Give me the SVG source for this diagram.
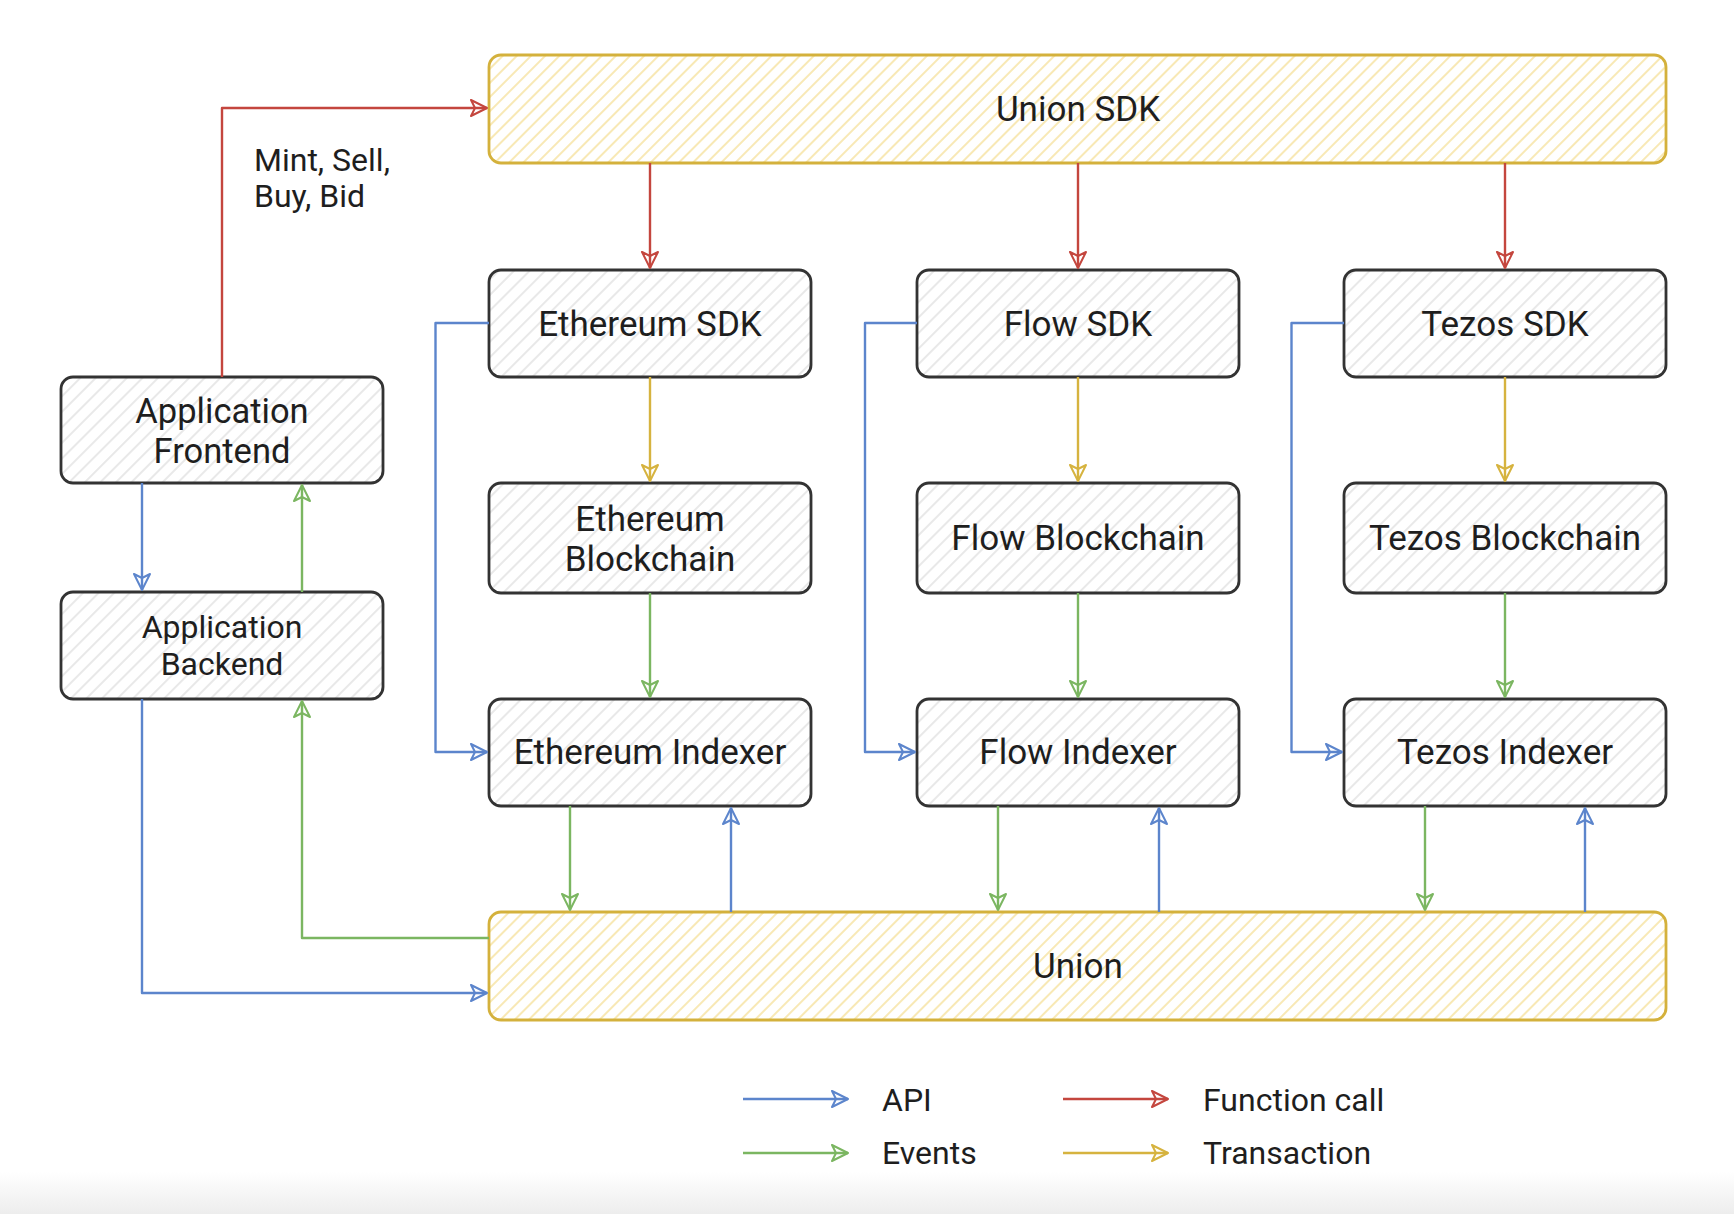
<svg xmlns="http://www.w3.org/2000/svg" width="1734" height="1214" viewBox="0 0 1734 1214">
<defs>
<pattern id="hg" patternUnits="userSpaceOnUse" width="11" height="11" patternTransform="rotate(45)">
<line x1="5" y1="0" x2="5" y2="11" stroke="#e3e3e3" stroke-width="1.6"/>
</pattern>
<pattern id="hy" patternUnits="userSpaceOnUse" width="10" height="10" patternTransform="rotate(45)">
<line x1="5" y1="0" x2="5" y2="10" stroke="#f6e3a2" stroke-width="1.6"/>
</pattern>
<marker id="mr" viewBox="0 0 22 22" refX="19" refY="11" markerWidth="22" markerHeight="22" markerUnits="userSpaceOnUse" orient="auto">
<path d="M3,3 L19,11 L3,19 L7,11 Z" fill="none" stroke="#c4463e" stroke-width="2" stroke-linejoin="round"/>
</marker>
<marker id="mb" viewBox="0 0 22 22" refX="19" refY="11" markerWidth="22" markerHeight="22" markerUnits="userSpaceOnUse" orient="auto">
<path d="M3,3 L19,11 L3,19 L7,11 Z" fill="none" stroke="#5c85cc" stroke-width="2" stroke-linejoin="round"/>
</marker>
<marker id="mg" viewBox="0 0 22 22" refX="19" refY="11" markerWidth="22" markerHeight="22" markerUnits="userSpaceOnUse" orient="auto">
<path d="M3,3 L19,11 L3,19 L7,11 Z" fill="none" stroke="#7bb661" stroke-width="2" stroke-linejoin="round"/>
</marker>
<marker id="my" viewBox="0 0 22 22" refX="19" refY="11" markerWidth="22" markerHeight="22" markerUnits="userSpaceOnUse" orient="auto">
<path d="M3,3 L19,11 L3,19 L7,11 Z" fill="none" stroke="#d6b33f" stroke-width="2" stroke-linejoin="round"/>
</marker>
<linearGradient id="fade" x1="0" y1="0" x2="0" y2="1">
<stop offset="0" stop-color="#ffffff"/>
<stop offset="1" stop-color="#ededed"/>
</linearGradient>
</defs>
<style>
.node rect{fill:url(#hg);stroke:#333333;stroke-width:2.8}
.ynode rect{fill:url(#hy);stroke:#d4b13c;stroke-width:2.8}
text{font-family:Roboto,"Liberation Sans",Arial,sans-serif;fill:#1e1e1e}
.t{font-size:35px;text-anchor:middle}
.tf{font-size:34.5px;text-anchor:middle}
.ts{font-size:32px;text-anchor:middle}
.lg{font-size:32px}
.c path{fill:none;stroke-width:2.4;stroke-linejoin:round}
.r{stroke:#c4463e;marker-end:url(#mr)}
.b{stroke:#5c85cc;marker-end:url(#mb)}
.g{stroke:#7bb661;marker-end:url(#mg)}
.y{stroke:#d6b33f;marker-end:url(#my)}
</style>
<rect x="0" y="0" width="1734" height="1214" fill="#ffffff"/>
<rect x="0" y="1172" width="1734" height="42" fill="url(#fade)"/>

<g id="union-sdk" class="ynode"><rect x="489" y="55" width="1177" height="108" rx="12"/><text class="t" x="1078" y="121">Union SDK</text></g>
<g id="union" class="ynode"><rect x="489" y="912" width="1177" height="108" rx="12"/><text class="t" x="1078" y="978">Union</text></g>

<g id="app-frontend" class="node"><rect x="61" y="377" width="322" height="106" rx="12"/><text class="tf" x="222" y="423">Application</text><text class="tf" x="222" y="463">Frontend</text></g>
<g id="app-backend" class="node"><rect x="61" y="592" width="322" height="107" rx="12"/><text class="ts" x="222" y="638">Application</text><text class="ts" x="222" y="675">Backend</text></g>

<g id="ethereum-sdk" class="node"><rect x="489" y="270" width="322" height="107" rx="12"/><text class="t" x="650" y="336">Ethereum SDK</text></g>
<g id="flow-sdk" class="node"><rect x="917" y="270" width="322" height="107" rx="12"/><text class="t" x="1078" y="336">Flow SDK</text></g>
<g id="tezos-sdk" class="node"><rect x="1344" y="270" width="322" height="107" rx="12"/><text class="t" x="1505" y="336">Tezos SDK</text></g>

<g id="ethereum-blockchain" class="node"><rect x="489" y="483" width="322" height="110" rx="12"/><text class="t" x="650" y="531">Ethereum</text><text class="t" x="650" y="571">Blockchain</text></g>
<g id="flow-blockchain" class="node"><rect x="917" y="483" width="322" height="110" rx="12"/><text class="t" x="1078" y="550">Flow Blockchain</text></g>
<g id="tezos-blockchain" class="node"><rect x="1344" y="483" width="322" height="110" rx="12"/><text class="t" x="1505" y="550">Tezos Blockchain</text></g>

<g id="ethereum-indexer" class="node"><rect x="489" y="699" width="322" height="107" rx="12"/><text class="t" x="650" y="764">Ethereum Indexer</text></g>
<g id="flow-indexer" class="node"><rect x="917" y="699" width="322" height="107" rx="12"/><text class="t" x="1078" y="764">Flow Indexer</text></g>
<g id="tezos-indexer" class="node"><rect x="1344" y="699" width="322" height="107" rx="12"/><text class="t" x="1505" y="764">Tezos Indexer</text></g>

<g id="connectors" class="c">
<path class="r" d="M222,377 L222,108 L487,108"/>
<path class="r" d="M650,163 L650,268"/>
<path class="r" d="M1078,163 L1078,268"/>
<path class="r" d="M1505,163 L1505,268"/>
<path class="y" d="M650,377 L650,481"/>
<path class="y" d="M1078,377 L1078,481"/>
<path class="y" d="M1505,377 L1505,481"/>
<path class="g" d="M650,593 L650,697"/>
<path class="g" d="M1078,593 L1078,697"/>
<path class="g" d="M1505,593 L1505,697"/>
<path class="b" d="M489,323 L435.5,323 L435.5,752 L487,752"/>
<path class="b" d="M917,323 L865,323 L865,752 L915,752"/>
<path class="b" d="M1344,323 L1291.5,323 L1291.5,752 L1342,752"/>
<path class="g" d="M570,806 L570,910"/>
<path class="g" d="M998,806 L998,910"/>
<path class="g" d="M1425,806 L1425,910"/>
<path class="b" d="M731,912 L731,808"/>
<path class="b" d="M1159,912 L1159,808"/>
<path class="b" d="M1585,912 L1585,808"/>
<path class="b" d="M142,483 L142,590"/>
<path class="g" d="M302,592 L302,485"/>
<path class="g" d="M489,938 L302,938 L302,701"/>
<path class="b" d="M142,699 L142,993 L487,993"/>
<path class="b" d="M743,1099 L848,1099"/>
<path class="r" d="M1063,1099 L1168,1099"/>
<path class="g" d="M743,1153 L848,1153"/>
<path class="y" d="M1063,1153 L1168,1153"/>
</g>

<text class="lg" x="254" y="171">Mint, Sell,</text>
<text class="lg" x="254" y="207">Buy, Bid</text>
<text class="lg" x="882" y="1111">API</text>
<text class="lg" x="1203" y="1111">Function call</text>
<text class="lg" x="882" y="1164">Events</text>
<text class="lg" x="1203" y="1164">Transaction</text>
</svg>
